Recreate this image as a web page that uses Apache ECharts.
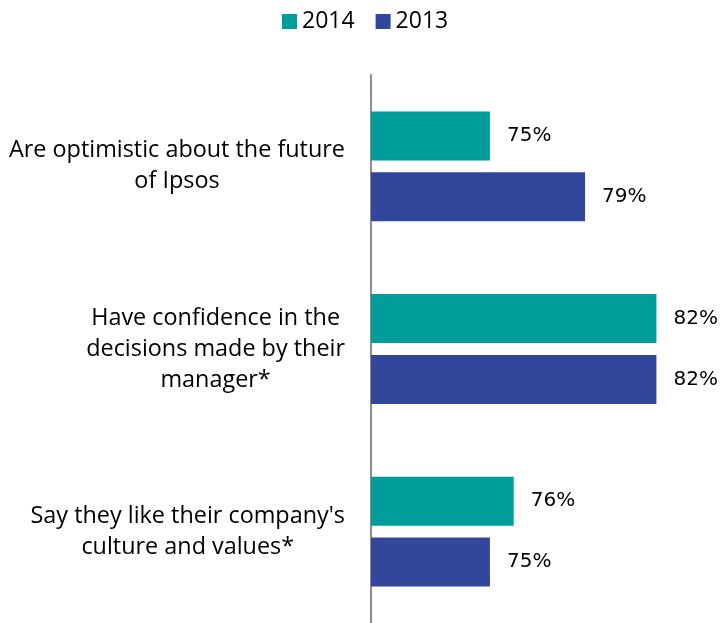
<!DOCTYPE html>
<html>
<head>
<meta charset="utf-8">
<script src="https://cdn.jsdelivr.net/npm/echarts@6/dist/echarts.min.js"></script>
<style>
  html, body { margin: 0; padding: 0; background: #fff; }
  #chart { width: 721px; height: 623px; }
</style>
</head>
<body>
<div id="chart"></div>
<script>
// Survey statements and the share agreeing, per year
const categories = [
  'Are optimistic about the future\nof Ipsos',
  'Have confidence in the\ndecisions made by their\nmanager*',
  "Say they like their company's\nculture and values*"
];
const values2014 = [75, 82, 76];
const values2013 = [79, 82, 75];
const seriesNames = ['2014', '2013'];

const chart = echarts.init(document.getElementById('chart'), null, { renderer: 'canvas' });

const labelStyle = {
  show: true,
  position: 'right',
  distance: 17,
  formatter: p => p.value + '%',
  fontFamily: 'DejaVu Sans',
  fontSize: 20,
  color: '#000'
};

chart.setOption({
  animation: false,
  legend: {
    data: seriesNames,
    left: 277,
    top: 5,
    icon: 'rect',
    itemWidth: 15,
    itemHeight: 15,
    itemGap: 21,
    textStyle: { fontFamily: 'Open Sans', fontSize: 23, color: '#000' }
  },
  grid: { left: 371, top: 75, width: 333, height: 552, containLabel: false },
  xAxis: {
    type: 'value',
    min: 70,
    max: 84,
    show: false,
    splitLine: { show: false }
  },
  yAxis: {
    type: 'category',
    data: categories,
    inverse: true,
    axisLine: { show: true, lineStyle: { color: '#8c8c8c', width: 2 } },
    axisTick: { show: false },
    axisLabel: {
      margin: 26,
      align: 'right',
      // block sits right of the margin; each line is centred inside the block
      formatter: value => value.split('\n').map(l => '{c|' + l + '}').join('\n'),
      rich: {
        c: {
          align: 'center',
          fontFamily: 'Open Sans',
          fontSize: 23.4,
          lineHeight: 31,
          color: '#000'
        }
      }
    }
  },
  series: [
    {
      name: seriesNames[0],
      type: 'bar',
      data: values2014,
      barWidth: 49,
      barGap: '24%',
      itemStyle: { color: '#009E9A' },
      label: labelStyle
    },
    {
      name: seriesNames[1],
      type: 'bar',
      data: values2013,
      barWidth: 49,
      barGap: '24%',
      itemStyle: { color: '#32469B' },
      label: labelStyle
    }
  ]
});
</script>
</body>
</html>
